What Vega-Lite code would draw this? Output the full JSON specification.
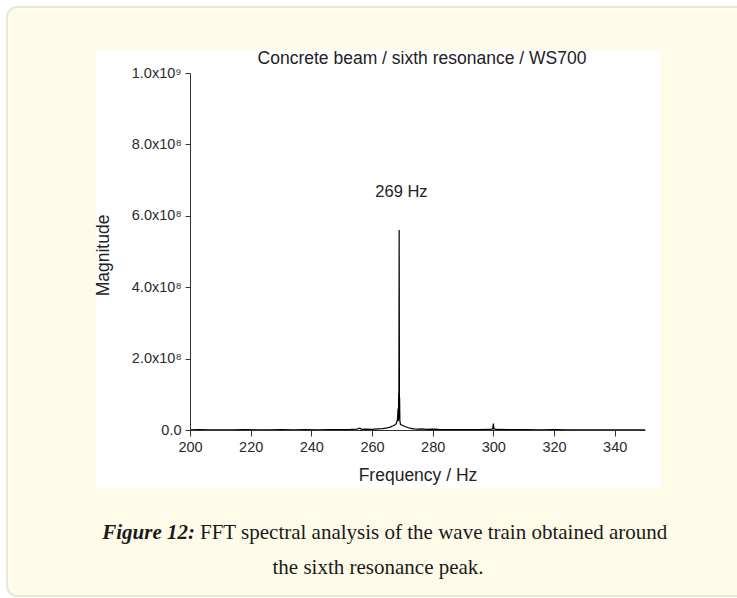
{
  "$schema": "https://vega.github.io/schema/vega-lite/v6.json",
  "width": 455,
  "height": 357,
  "autosize": {"type": "none"},
  "padding": {"left": 190, "top": 73, "right": 92, "bottom": 168},
  "background": "#ffffff",
  "config": {"view": {"stroke": null}, "font": "Liberation Sans"},
  "data": {"values": [{"item": "frame"}]},
  "datasets": {
    "spectrum": [
      {"freq": 200, "mag": 300000}, {"freq": 203, "mag": 800000}, {"freq": 206, "mag": 400000},
      {"freq": 210, "mag": 700000}, {"freq": 214, "mag": 300000}, {"freq": 218, "mag": 900000},
      {"freq": 222, "mag": 400000}, {"freq": 226, "mag": 600000}, {"freq": 230, "mag": 900000},
      {"freq": 234, "mag": 500000}, {"freq": 238, "mag": 800000}, {"freq": 242, "mag": 600000},
      {"freq": 246, "mag": 1000000}, {"freq": 250, "mag": 1200000}, {"freq": 253, "mag": 1500000},
      {"freq": 255, "mag": 2500000}, {"freq": 256, "mag": 5000000}, {"freq": 256.5, "mag": 2000000},
      {"freq": 258, "mag": 2500000}, {"freq": 260, "mag": 2000000}, {"freq": 262, "mag": 3000000},
      {"freq": 263.5, "mag": 4000000}, {"freq": 265, "mag": 6000000}, {"freq": 266, "mag": 8000000},
      {"freq": 266.8, "mag": 11000000}, {"freq": 267.5, "mag": 14000000}, {"freq": 268, "mag": 18000000},
      {"freq": 268.4, "mag": 30000000}, {"freq": 268.6, "mag": 60000000}, {"freq": 268.7, "mag": 25000000},
      {"freq": 268.8, "mag": 102000000}, {"freq": 268.85, "mag": 30000000}, {"freq": 268.95, "mag": 560000000},
      {"freq": 269.05, "mag": 40000000}, {"freq": 269.1, "mag": 90000000}, {"freq": 269.2, "mag": 25000000},
      {"freq": 269.4, "mag": 16000000}, {"freq": 269.8, "mag": 14000000}, {"freq": 270.3, "mag": 12000000},
      {"freq": 271, "mag": 9000000}, {"freq": 271.8, "mag": 7000000}, {"freq": 272.5, "mag": 5000000},
      {"freq": 273.2, "mag": 4000000}, {"freq": 274, "mag": 3000000}, {"freq": 275, "mag": 2500000},
      {"freq": 276.5, "mag": 3000000}, {"freq": 278, "mag": 2000000}, {"freq": 280, "mag": 2500000},
      {"freq": 282, "mag": 1500000}, {"freq": 285, "mag": 1200000}, {"freq": 290, "mag": 1000000},
      {"freq": 295, "mag": 1200000}, {"freq": 299, "mag": 1500000}, {"freq": 299.8, "mag": 3000000},
      {"freq": 300, "mag": 18000000}, {"freq": 300.2, "mag": 3000000}, {"freq": 301, "mag": 1500000},
      {"freq": 305, "mag": 1000000}, {"freq": 310, "mag": 800000}, {"freq": 315, "mag": 600000},
      {"freq": 320, "mag": 800000}, {"freq": 325, "mag": 500000}, {"freq": 330, "mag": 700000},
      {"freq": 335, "mag": 500000}, {"freq": 340, "mag": 600000}, {"freq": 345, "mag": 400000},
      {"freq": 350, "mag": 300000}
    ],
    "peak": [{"freq": 269.7, "mag": 667000000, "label": "269 Hz"}]
  },
  "layer": [
    {
      "mark": {"type": "rect", "fill": "#fffbe9", "stroke": "#ebe7d8", "strokeWidth": 2, "cornerRadius": 10},
      "encoding": {
        "x": {"datum": 139.67, "type": "quantitative"},
        "x2": {"datum": 385},
        "y": {"datum": 1184900000, "type": "quantitative"},
        "y2": {"datum": -465000000}
      }
    },
    {
      "mark": {"type": "rect", "fill": "#ffffff"},
      "encoding": {
        "x": {"datum": 169.0, "type": "quantitative"},
        "x2": {"datum": 354.95},
        "y": {"datum": 1064400000, "type": "quantitative"},
        "y2": {"datum": -162500000}
      }
    },
    {
      "data": {"name": "spectrum"},
      "mark": {"type": "line", "color": "#000000", "strokeWidth": 1.2},
      "encoding": {
        "x": {
          "field": "freq", "type": "quantitative",
          "scale": {"domain": [200, 350], "nice": false, "zero": false},
          "axis": {
            "title": "Frequency / Hz",
            "titleFont": "Liberation Sans", "titleFontSize": 17.5, "titleFontWeight": "normal", "titleColor": "#222222",
            "titleBaseline": "alphabetic", "titleY": 50,
            "values": [200, 210, 220, 230, 240, 250, 260, 270, 280, 290, 300, 310, 320, 330, 340, 350],
            "labelExpr": "datum.value % 20 === 0 ? datum.label : ''",
            "labelFont": "Liberation Sans", "labelFontSize": 14.5, "labelColor": "#2a2a2a",
            "labelFlush": false, "labelPadding": 4,
            "tickSize": {"condition": {"test": "datum.value % 20 === 0", "value": 6}, "value": 3},
            "tickColor": "#333333", "domainColor": "#333333", "grid": false, "zindex": 1
          }
        },
        "y": {
          "field": "mag", "type": "quantitative",
          "scale": {"domain": [0, 1000000000], "nice": false},
          "axis": {
            "title": "Magnitude",
            "titleFont": "Liberation Sans", "titleFontSize": 17.5, "titleFontWeight": "normal", "titleColor": "#222222",
            "titleAngle": 270, "titleBaseline": "alphabetic", "titleAlign": "center", "titleX": -82, "titleY": 182,
            "values": [0, 100000000, 200000000, 300000000, 400000000, 500000000, 600000000, 700000000, 800000000, 900000000, 1000000000],
            "labelExpr": "datum.value === 0 ? '0.0' : (datum.value % 200000000 !== 0 ? '' : (datum.value === 1000000000 ? '1.0x10⁹' : format(datum.value / 100000000, '.1f') + 'x10⁸'))",
            "labelFont": "Liberation Sans", "labelFontSize": 14.5, "labelColor": "#2a2a2a", "labelPadding": 4,
            "tickSize": {"condition": {"test": "datum.value % 200000000 === 0", "value": 5}, "value": 3},
            "tickColor": "#333333", "domainColor": "#333333", "grid": false, "zindex": 1
          }
        }
      }
    },
    {
      "data": {"name": "peak"},
      "mark": {"type": "text", "font": "Liberation Sans", "fontSize": 16.5, "color": "#222222", "align": "center", "baseline": "middle"},
      "encoding": {
        "x": {"field": "freq", "type": "quantitative"},
        "y": {"field": "mag", "type": "quantitative"},
        "text": {"field": "label"}
      }
    },
    {
      "mark": {"type": "text", "font": "Liberation Sans", "fontSize": 17.5, "color": "#222222", "align": "center", "baseline": "alphabetic"},
      "encoding": {
        "x": {"datum": 276.48, "type": "quantitative"},
        "y": {"datum": 1025200000, "type": "quantitative"},
        "text": {"value": "Concrete beam / sixth resonance / WS700"}
      }
    },
    {
      "mark": {"type": "text", "font": "Liberation Serif", "fontSize": 21, "fontStyle": "italic", "fontWeight": "bold", "color": "#1a1a1a", "align": "right", "baseline": "middle"},
      "encoding": {
        "x": {"datum": 201.65, "type": "quantitative"},
        "y": {"datum": -288500000, "type": "quantitative"},
        "text": {"value": "Figure 12:"}
      }
    },
    {
      "mark": {"type": "text", "font": "Liberation Serif", "fontSize": 21, "color": "#1a1a1a", "align": "left", "baseline": "middle"},
      "encoding": {
        "x": {"datum": 203.3, "type": "quantitative"},
        "y": {"datum": -288500000, "type": "quantitative"},
        "text": {"value": "FFT spectral analysis of the wave train obtained around"}
      }
    },
    {
      "mark": {"type": "text", "font": "Liberation Serif", "fontSize": 21, "color": "#1a1a1a", "align": "center", "baseline": "middle"},
      "encoding": {
        "x": {"datum": 262.0, "type": "quantitative"},
        "y": {"datum": -386600000, "type": "quantitative"},
        "text": {"value": "the sixth resonance peak."}
      }
    }
  ]
}
